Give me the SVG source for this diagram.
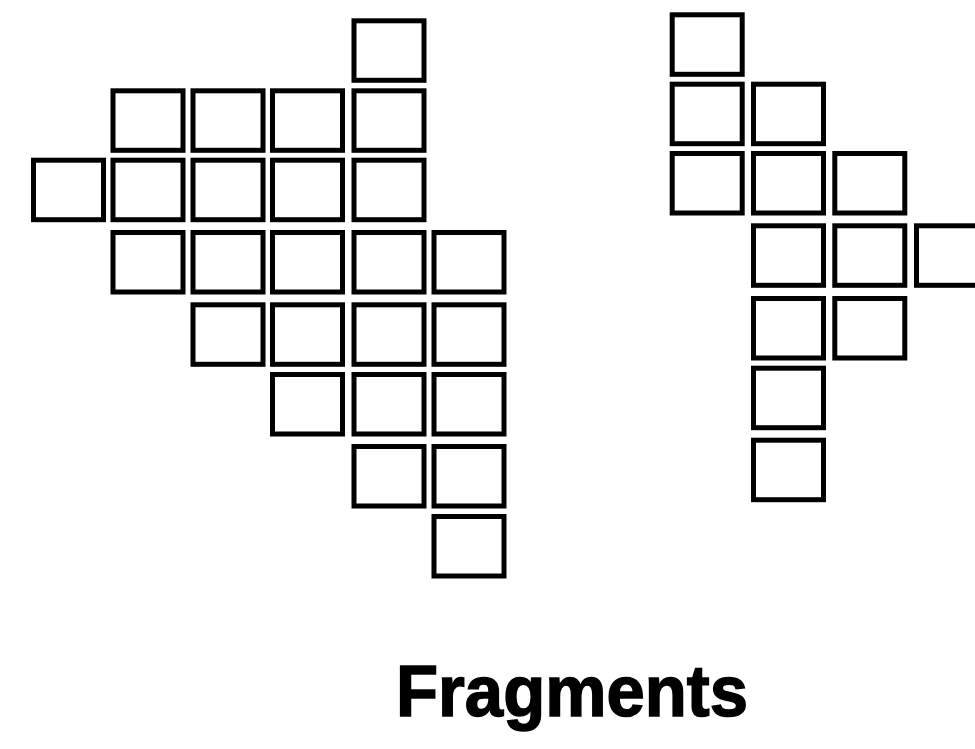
<svg xmlns="http://www.w3.org/2000/svg" width="975" height="749" viewBox="0 0 975 749">
<style>
.f{fill:#fff;stroke:#000;stroke-width:5}
.t{font-family:"Liberation Sans",Arial,sans-serif;font-weight:bold;font-size:72px;fill:#000;stroke:#000;stroke-width:1.5}
</style>
<rect width="975" height="749" fill="#fff"/>
<g id="left-fragments">
<rect class="f" x="354" y="20.8" width="70" height="59.5"/>
<rect class="f" x="113" y="90.8" width="70" height="59.5"/>
<rect class="f" x="193" y="90.8" width="70" height="59.5"/>
<rect class="f" x="272.5" y="90.8" width="70" height="59.5"/>
<rect class="f" x="354" y="90.8" width="70" height="59.5"/>
<rect class="f" x="33.5" y="160.2" width="70" height="59.5"/>
<rect class="f" x="113" y="160.2" width="70" height="59.5"/>
<rect class="f" x="193" y="160.2" width="70" height="59.5"/>
<rect class="f" x="272.5" y="160.2" width="70" height="59.5"/>
<rect class="f" x="354" y="160.2" width="70" height="59.5"/>
<rect class="f" x="113" y="232.5" width="70" height="59.5"/>
<rect class="f" x="193" y="232.5" width="70" height="59.5"/>
<rect class="f" x="272.5" y="232.5" width="70" height="59.5"/>
<rect class="f" x="354" y="232.5" width="70" height="59.5"/>
<rect class="f" x="434" y="232.5" width="70" height="59.5"/>
<rect class="f" x="193" y="304.8" width="70" height="59.5"/>
<rect class="f" x="272.5" y="304.8" width="70" height="59.5"/>
<rect class="f" x="354" y="304.8" width="70" height="59.5"/>
<rect class="f" x="434" y="304.8" width="70" height="59.5"/>
<rect class="f" x="272.5" y="374.5" width="70" height="59.5"/>
<rect class="f" x="354" y="374.5" width="70" height="59.5"/>
<rect class="f" x="434" y="374.5" width="70" height="59.5"/>
<rect class="f" x="354" y="446.5" width="70" height="59.5"/>
<rect class="f" x="434" y="446.5" width="70" height="59.5"/>
<rect class="f" x="434" y="516.5" width="70" height="59.5"/>
</g>
<g id="right-fragments">
<rect class="f" x="672.2" y="14.8" width="70" height="59.5"/>
<rect class="f" x="672.2" y="84.2" width="70" height="59.5"/>
<rect class="f" x="753.5" y="84.2" width="70" height="59.5"/>
<rect class="f" x="672.2" y="153.5" width="70" height="59.5"/>
<rect class="f" x="753.5" y="153.5" width="70" height="59.5"/>
<rect class="f" x="834.8" y="153.5" width="70" height="59.5"/>
<rect class="f" x="753.5" y="225.8" width="70" height="59.5"/>
<rect class="f" x="834.8" y="225.8" width="70" height="59.5"/>
<rect class="f" x="916.5" y="225.8" width="70" height="59.5"/>
<rect class="f" x="753.5" y="298.5" width="70" height="59.5"/>
<rect class="f" x="834.8" y="298.5" width="70" height="59.5"/>
<rect class="f" x="753.5" y="368.2" width="70" height="59.5"/>
<rect class="f" x="753.5" y="440.2" width="70" height="59.5"/>
</g>
<g id="label">
<text class="t" x="396" y="716" textLength="352" lengthAdjust="spacingAndGlyphs">Fragments</text>
</g>
</svg>
